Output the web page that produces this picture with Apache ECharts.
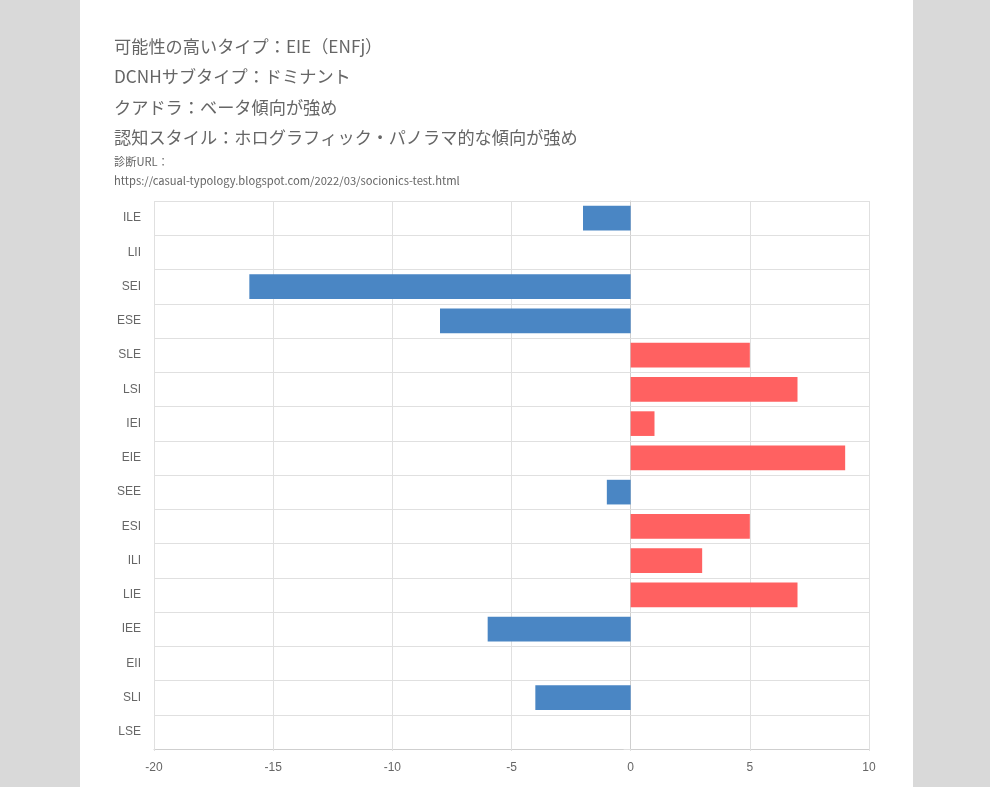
<!DOCTYPE html>
<html>
<head>
<meta charset="utf-8">
<script src="https://cdn.jsdelivr.net/npm/echarts@6/dist/echarts.min.js"></script>
<style>
html,body{margin:0;padding:0;background:#d9d9d9;}
#chart{width:990px;height:787px;}
</style>
</head>
<body>
<div id="chart"></div>
<script>
const categories = ['ILE','LII','SEI','ESE','SLE','LSI','IEI','EIE','SEE','ESI','ILI','LIE','IEE','EII','SLI','LSE'];
const scores = [-2, 0, -16, -8, 5, 7, 1, 9, -1, 5, 3, 7, -6, 0, -4, 0];
const headingLines = [
  '可能性の高いタイプ：EIE（ENFj）',
  'DCNHサブタイプ：ドミナント',
  'クアドラ：ベータ傾向が強め',
  '認知スタイル：ホログラフィック・パノラマ的な傾向が強め'
];
const noteLines = ['診断URL：', 'https://casual-typology.blogspot.com/2022/03/socionics-test.html'];

const chart = echarts.init(document.getElementById('chart'));
const titleFont = '"Noto Sans CJK JP", "Noto Sans", sans-serif';
const titles = [];
const headTops = [37, 67, 98, 128];
headingLines.forEach((t, i) => {
  titles.push({
    text: t, left: 114, top: headTops[i], padding: 0,
    textStyle: { fontSize: 17.2, fontWeight: 'normal', color: '#666666', fontFamily: titleFont, lineHeight: 18 }
  });
});
const noteTops = [156, 175];
noteLines.forEach((t, i) => {
  titles.push({
    text: t, left: 114, top: noteTops[i], padding: 0,
    textStyle: { fontSize: 11.2, fontWeight: 'normal', color: '#666', fontFamily: titleFont, lineHeight: 12 }
  });
});

const gridColor = '#e0e0e0';
chart.setOption({
  animation: false,
  graphic: [{
    type: 'rect', z: -10, silent: true,
    shape: { x: 80, y: 0, width: 833, height: 787 },
    style: { fill: '#ffffff' }
  }],
  title: titles,
  grid: { left: 154, right: 121, top: 201, bottom: 38, containLabel: false },
  xAxis: {
    type: 'value', min: -20, max: 10, interval: 5,
    axisLine: { show: true, lineStyle: { color: '#cfcfcf' } },
    axisTick: { show: true, length: 2, lineStyle: { color: gridColor } },
    splitLine: { show: true, lineStyle: { color: gridColor } },
    axisLabel: { color: '#666', fontSize: 12, margin: 13, fontFamily: 'Liberation Sans, Arial, sans-serif' }
  },
  yAxis: {
    type: 'category', data: categories, inverse: true,
    axisLine: { show: true, lineStyle: { color: '#cfcfcf' } },
    axisTick: { show: true, length: 7, lineStyle: { color: gridColor } },
    splitLine: { show: true, lineStyle: { color: gridColor } },
    axisLabel: { color: '#666', fontSize: 12, margin: 13, fontFamily: 'Liberation Sans, Arial, sans-serif' }
  },
  series: [{
    type: 'bar',
    data: scores,
    barWidth: '72%',
    itemStyle: {
      color: p => p.value < 0 ? '#4a86c4' : '#ff6161'
    }
  }]
});
</script>
</body>
</html>
